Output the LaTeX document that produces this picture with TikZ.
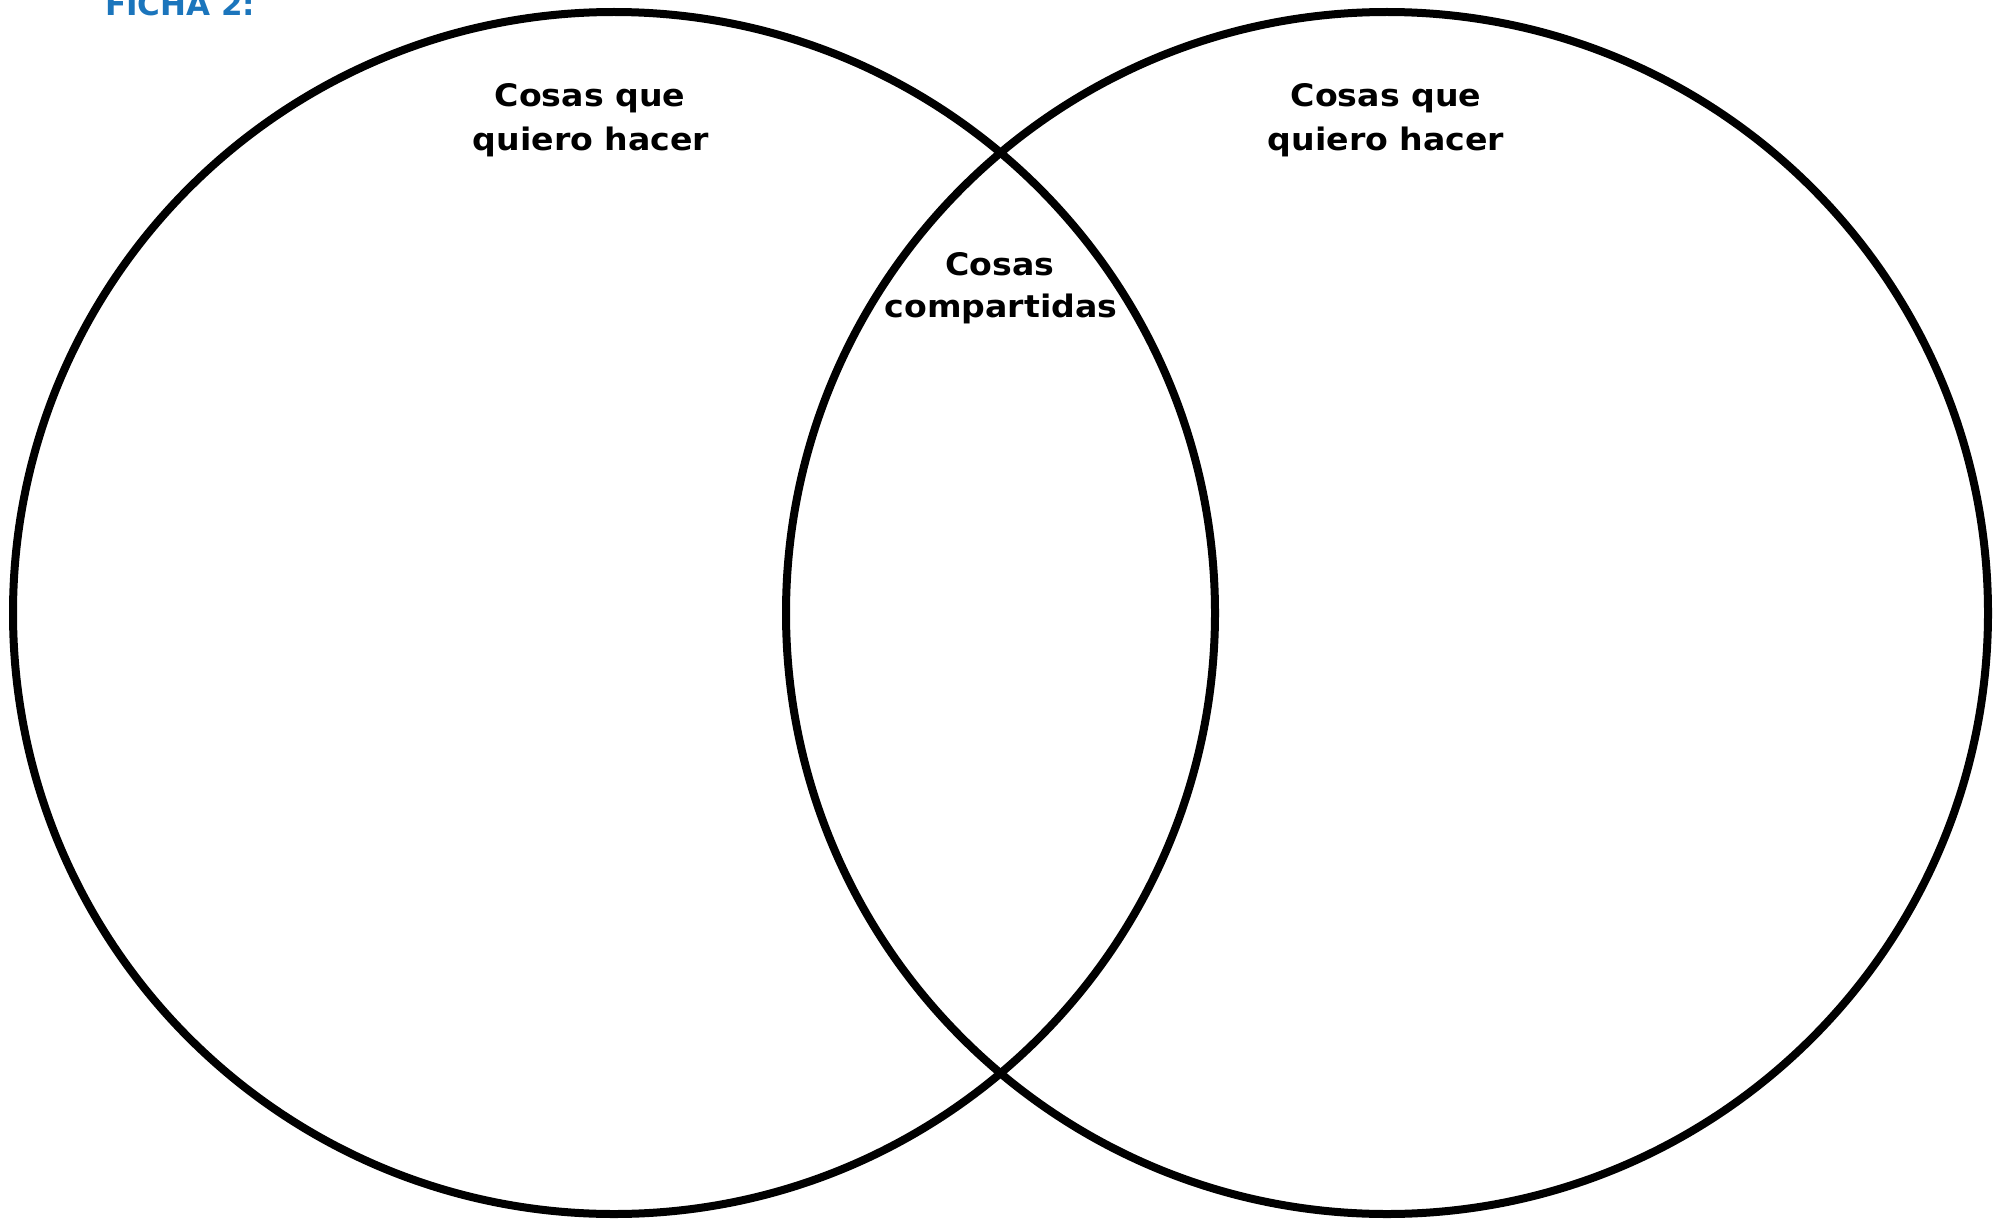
\documentclass[tikz,border=0pt]{standalone}
\usepackage{fontspec}
\setmainfont{DejaVu Sans}
\definecolor{fichablue}{HTML}{1B75BC}
\newcommand{\wide}[1]{\scalebox{1.07}[1]{#1}}
\begin{document}
\begin{tikzpicture}[x=1pt,y=-1pt,
  ring/.style={draw=black,line width=8pt},
  lbl/.style={font=\bfseries\fontsize{31}{31}\selectfont, inner sep=0pt, anchor=base},
  ficha/.style={font=\bfseries\fontsize{31}{31}\selectfont, text=fichablue, inner sep=0pt, anchor=base west}]
\useasboundingbox (0,0) rectangle (1999,1220);
\fill[white] (0,0) rectangle (1999,1220);
\draw[ring] (614,613) circle[radius=601];
\draw[ring] (1387,613) circle[radius=601];
\node[ficha] (title) at (105,16) {FICHA 2:};
\node[lbl] (l1) at (590,107) {\wide{Cosas que}};
\node[lbl] (l2) at (591,150) {\wide{quiero hacer}};
\node[lbl] (r1) at (1386,107) {\wide{Cosas que}};
\node[lbl] (r2) at (1386,150) {\wide{quiero hacer}};
\node[lbl] (m1) at (1000,275) {\wide{Cosas}};
\node[lbl] (m2) at (1001,317) {\wide{compartidas}};
\end{tikzpicture}
\end{document}
